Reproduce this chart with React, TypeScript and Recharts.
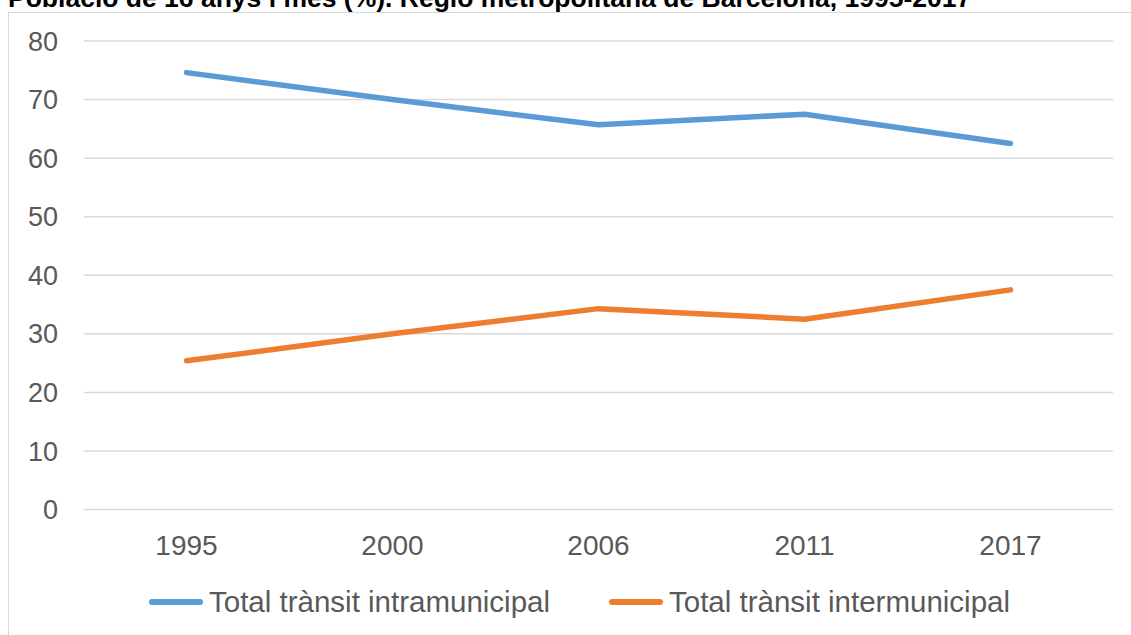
import React from 'react';
import { LineChart, Line, XAxis, YAxis, CartesianGrid, Legend } from 'recharts';

const years = ['1995', '2000', '2006', '2011', '2017'];
const intramunicipal = [74.6, 70.0, 65.7, 67.5, 62.5];
const intermunicipal = [25.4, 30.0, 34.3, 32.5, 37.5];
const yTicks = [0, 10, 20, 30, 40, 50, 60, 70, 80];
const seriesNames = ['Total trànsit intramunicipal', 'Total trànsit intermunicipal'];
const seriesColors = ['#5B9BD5', '#ED7D31'];
const title = 'Població de 16 anys i més (%). Regió metropolitana de Barcelona, 1995-2017';

const data = years.map((y, i) => ({
  year: y,
  intra: intramunicipal[i],
  inter: intermunicipal[i],
}));

const FONT = '"Liberation Sans", Arial, sans-serif';

const renderLegend = (props: any) => {
  const payload = [...(props.payload || [])].sort(
    (a: any, b: any) => seriesNames.indexOf(a.value) - seriesNames.indexOf(b.value)
  );
  return (
    <div style={{ display: 'flex', alignItems: 'center', fontFamily: FONT }}>
      {payload.map((entry: any, i: number) => (
        <div
          key={i}
          style={{ display: 'flex', alignItems: 'center', width: i === 0 ? 460 : 420 }}
        >
          <svg width={54} height={10} style={{ display: 'block' }}>
            <line x1={3} y1={5} x2={51} y2={5} stroke={entry.color} strokeWidth={6} strokeLinecap="round" />
          </svg>
          <span style={{ marginLeft: 6, fontSize: 29.5, color: '#595959', lineHeight: '32px', whiteSpace: 'nowrap' }}>
            {entry.value}
          </span>
        </div>
      ))}
    </div>
  );
};

export default function App() {
  return (
    <div style={{ position: 'absolute', left: 0, top: 0, width: 1131, height: 635, overflow: 'hidden', background: '#fff' }}>
      <div
        style={{
          position: 'absolute',
          left: 8,
          top: 12,
          width: 1200,
          height: 700,
          border: '1.5px solid #d9d9d9',
          boxSizing: 'border-box',
        }}
      />
      <svg width={1131} height={20} style={{ position: 'absolute', left: 0, top: 0 }}>
        <text x={8} y={7} fontFamily={FONT} fontWeight="bold" fontSize={26.5} fill="#000">
          {title}
        </text>
      </svg>
      <div style={{ position: 'absolute', left: 0, top: 0 }}>
        <LineChart
          width={1131}
          height={635}
          data={data}
          margin={{ top: 41, right: 18, left: 0, bottom: 85.5 }}
        >
          <CartesianGrid vertical={false} stroke="#d9d9d9" strokeWidth={1.5} />
          <XAxis
            dataKey="year"
            height={40}
            axisLine={false}
            tickLine={false}
            padding={{ left: 102.5, right: 102.5 }}
            tickMargin={20}
            tick={{ fill: '#595959', fontSize: 28, fontFamily: FONT }}
          />
          <YAxis
            width={84}
            domain={[0, 80]}
            ticks={yTicks}
            axisLine={false}
            tickLine={false}
            tickMargin={20}
            tick={{ fill: '#595959', fontSize: 27, fontFamily: FONT }}
          />
          <Legend
            verticalAlign="middle"
            align="center"
            content={renderLegend}
            wrapperStyle={{ left: 149, top: 586, width: 950 }}
          />
          <Line
            type="linear"
            dataKey="intra"
            name={seriesNames[0]}
            stroke={seriesColors[0]}
            strokeWidth={5.5}
            strokeLinecap="round"
            strokeLinejoin="round"
            dot={false}
            activeDot={false}
            isAnimationActive={false}
          />
          <Line
            type="linear"
            dataKey="inter"
            name={seriesNames[1]}
            stroke={seriesColors[1]}
            strokeWidth={5.5}
            strokeLinecap="round"
            strokeLinejoin="round"
            dot={false}
            activeDot={false}
            isAnimationActive={false}
          />
        </LineChart>
      </div>
    </div>
  );
}
